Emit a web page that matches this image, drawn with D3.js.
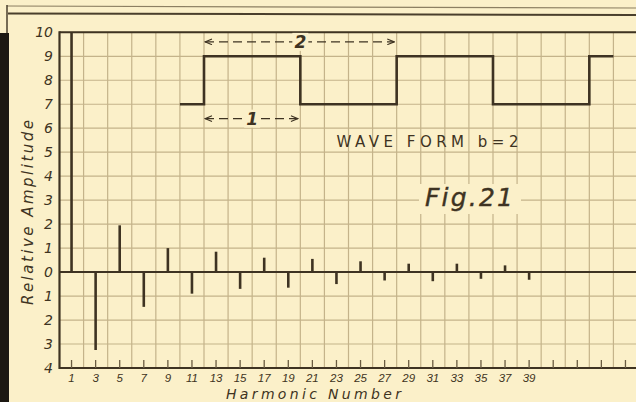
<!DOCTYPE html>
<html><head><meta charset="utf-8">
<script src="https://cdn.jsdelivr.net/npm/d3@7"></script>
<style>
html,body{margin:0;padding:0;background:#fbf0c9;}
svg{display:block;}
text{fill:#3e3322;}
</style></head>
<body>
<svg id="chart" width="636" height="402"></svg>
<script>
// ---- data ----
const harmonics = [1,3,5,7,9,11,13,15,17,19,21,23,25,27,29,31,33,35,37,39];
const amplitudes = [10,-3.25,1.95,-1.45,1.0,-0.9,0.85,-0.7,0.6,-0.65,0.55,-0.5,0.45,-0.35,0.35,-0.38,0.35,-0.28,0.28,-0.32];
const xTickLabels = [1,3,5,7,9,11,13,15,17,19,21,23,25,27,29,31,33,35,37,39];
const xTickMarks = [1,3,5,7,9,11,13,15,17,19,21,23,25,27,29,31,33,35,37,39,41,43,45,47];
const yTickValues = [10,9,8,7,6,5,4,3,2,1,0,-1,-2,-3,-4];
const yTickLabels = ["10","9","8","7","6","5","4","3","2","1","0","1","2","3","4"];
const waveX = [10,12,20,28,36,44,46];
const waveY = [7,9,7,9,7,9,9];
const arrowSpans = [{from:12,to:27.8,at:9.6,label:"2",labelAt:20},{from:12,to:19.8,at:6.4,label:"1",labelAt:16}];

const svg = d3.select("#chart");
const x = d3.scaleLinear().domain([0,48]).range([59.5,637.5]);
const y = d3.scaleLinear().domain([-4,10]).range([368,32.3]);
const dark = "#3e3322", grid = "#c4b38a", bg = "#fbf0c9";
const FONT = "DejaVu Sans, Liberation Sans, sans-serif";
const NARROW = "Liberation Sans, Arial, sans-serif";

// frame decorations
svg.append("line").attr("x1",7).attr("y1",6).attr("x2",636).attr("y2",8).attr("stroke","#8c7f62").attr("stroke-width",1.2);
svg.append("line").attr("x1",8).attr("y1",13.5).attr("x2",636).attr("y2",15).attr("stroke","#4a3f2c").attr("stroke-width",2);
svg.append("line").attr("x1",7).attr("y1",5).attr("x2",7).attr("y2",34).attr("stroke","#4a3f2c").attr("stroke-width",1.5);
svg.append("rect").attr("x",0).attr("y",33).attr("width",9).attr("height",369).attr("fill","#1c1812");

// grid
const vGrid = d3.range(2,50,2);
svg.append("g").selectAll("line").data(vGrid).join("line")
  .attr("x1",d=>x(d)).attr("x2",d=>x(d)).attr("y1",y(10)).attr("y2",y(-4))
  .attr("stroke",grid).attr("stroke-width",1.2);
svg.append("g").selectAll("line").data(yTickValues).join("line")
  .attr("x1",x(0)).attr("x2",636).attr("y1",d=>y(d)).attr("y2",d=>y(d))
  .attr("stroke",grid).attr("stroke-width",1.2);

// axes lines
svg.append("line").attr("x1",x(0)).attr("x2",636).attr("y1",y(0)).attr("y2",y(0)).attr("stroke",dark).attr("stroke-width",2);
svg.append("line").attr("x1",x(0)).attr("x2",636).attr("y1",y(-4)).attr("y2",y(-4)).attr("stroke",dark).attr("stroke-width",2.2);
svg.append("line").attr("x1",x(0)).attr("x2",636).attr("y1",y(10)).attr("y2",y(10)).attr("stroke",dark).attr("stroke-width",2);
svg.append("line").attr("x1",x(0)).attr("x2",x(0)).attr("y1",y(10)-1).attr("y2",y(-4)+1).attr("stroke",dark).attr("stroke-width",2.2);

// bottom ticks
svg.append("g").selectAll("line").data(xTickMarks).join("line")
  .attr("x1",d=>x(d)).attr("x2",d=>x(d)).attr("y1",y(-4)).attr("y2",y(-4)-8)
  .attr("stroke","#6a5c42").attr("stroke-width",1.3);

// stems
svg.append("g").selectAll("line").data(harmonics).join("line")
  .attr("x1",d=>x(d)).attr("x2",d=>x(d))
  .attr("y1",y(0)).attr("y2",(d,i)=>y(amplitudes[i]))
  .attr("stroke",dark).attr("stroke-width",2.6);

// wave form
const line = d3.line().x((d,i)=>x(waveX[i])).y((d,i)=>y(waveY[i])).curve(d3.curveStepAfter);
svg.append("path").datum(waveX).attr("d",line).attr("fill","none").attr("stroke",dark).attr("stroke-width",2.6);

// arrows
const defs = svg.append("defs");
defs.append("marker").attr("id","ah").attr("viewBox","0 0 10 10").attr("refX",10).attr("refY",5)
  .attr("markerWidth",9).attr("markerHeight",7).attr("orient","auto-start-reverse").attr("markerUnits","userSpaceOnUse")
  .append("path").attr("d","M0,1 L10,5 L0,9").attr("fill","none").attr("stroke",dark).attr("stroke-width",1.6);
arrowSpans.forEach(a=>{
  svg.append("line").attr("x1",x(a.from)+1).attr("x2",x(a.to)).attr("y1",y(a.at)).attr("y2",y(a.at))
    .attr("stroke",dark).attr("stroke-width",1.4).attr("stroke-dasharray","9,5")
    .attr("marker-start","url(#ah)").attr("marker-end","url(#ah)");
  svg.append("rect").attr("x",x(a.labelAt)-8).attr("y",y(a.at)-9).attr("width",16).attr("height",18).attr("fill",bg);
  svg.append("text").attr("x",x(a.labelAt)).attr("y",y(a.at)+6).attr("text-anchor","middle")
    .style("font-family",FONT).attr("font-size",17).attr("font-weight","bold").attr("font-style","italic").text(a.label);
});

// y tick labels
svg.append("g").selectAll("text").data(yTickValues).join("text")
  .attr("x",53).attr("y",d=>y(d)+5).attr("text-anchor","end").style("font-family",FONT)
  .attr("font-size",14).attr("font-style","italic")
  .text((d,i)=>yTickLabels[i]);

// x tick labels
svg.append("g").selectAll("text").data(xTickLabels).join("text")
  .attr("x",d=>x(d)).attr("y",382).attr("text-anchor","middle").style("font-family",NARROW)
  .attr("font-size",11.5).attr("font-style","italic")
  .text(d=>d);

// axis titles
svg.append("text").attr("x",226).attr("y",399).style("font-family",FONT).attr("font-size",14).attr("font-style","italic")
  .attr("textLength",175).attr("lengthAdjust","spacing").text("Harmonic Number");
svg.append("text").attr("transform","translate(33,305) rotate(-90)").style("font-family",FONT).attr("font-size",15).attr("font-style","italic")
  .attr("textLength",185).attr("lengthAdjust","spacing").text("Relative Amplitude");

// annotations
svg.append("text").attr("x",x(23)).attr("y",147).style("font-family",FONT).attr("font-size",15)
  .attr("textLength",182).attr("lengthAdjust","spacing").text("WAVE FORM b=2");
svg.append("rect").attr("x",419).attr("y",184).attr("width",102).attr("height",30).attr("fill",bg);
svg.append("text").attr("x",425).attr("y",206).style("font-family",FONT).attr("font-size",25).attr("font-style","italic")
  .attr("stroke","#3e3322").attr("stroke-width",0.4)
  .attr("textLength",88).attr("lengthAdjust","spacing").text("Fig.21");
</script>
</body></html>
